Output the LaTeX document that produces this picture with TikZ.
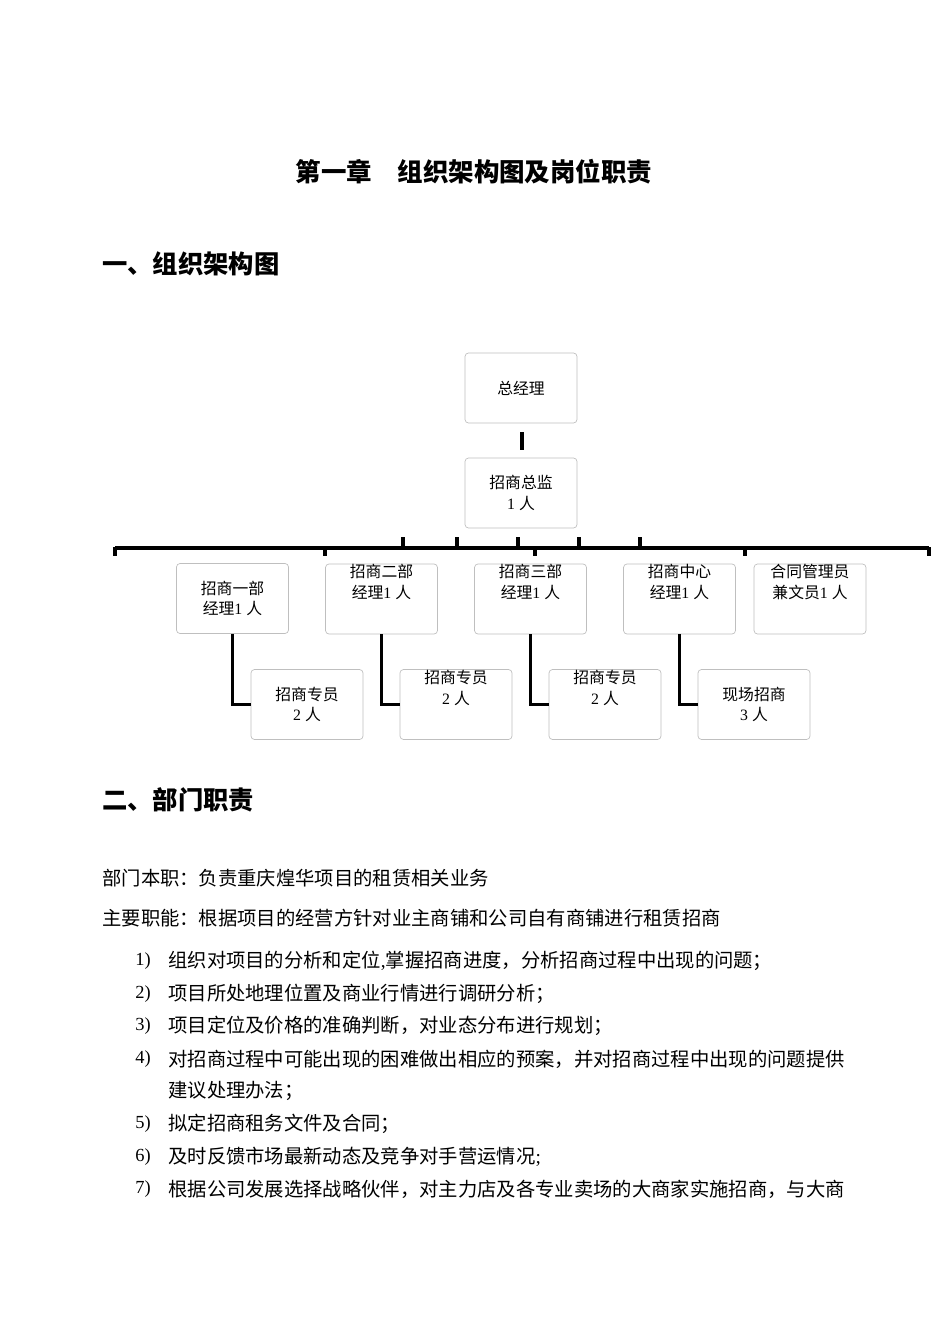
\documentclass[tikz,border=0pt]{standalone}
\usepackage{fontspec}
\setmainfont{Liberation Serif}
\newfontfamily\cjk{Noto Sans CJK SC}
\begin{document}
\begin{tikzpicture}[x=0.02cm,y=-0.02cm,
 box/.style={draw=black!25,rounded corners=2pt,line width=0.4pt,minimum width=112*0.02cm,minimum height=70*0.02cm,inner sep=0pt,align=center,font=\cjk\fontsize{9}{11.8}\selectfont},
 thick line/.style={line width=2.2pt},
 body/.style={anchor=west,inner sep=0pt,font=\cjk\fontsize{11}{13}\selectfont},
 num/.style={anchor=west,inner sep=0pt,font=\fontsize{10.5}{12}\selectfont}]
\useasboundingbox (0,0) rectangle (950,1344);
\node[font=\cjk\bfseries\fontsize{14.5}{17}\selectfont] (title) at (474,172) {第一章\quad 组织架构图及岗位职责};
\node[anchor=west,inner sep=0pt,font=\cjk\bfseries\fontsize{14.4}{17}\selectfont] (h1) at (102,264) {一、组织架构图};
\node[anchor=west,inner sep=0pt,font=\cjk\bfseries\fontsize{14.4}{17}\selectfont] (h2) at (102,800) {二、部门职责};
% chart
\node[box] (gm) at (521,388) {总经理};
\node[box] (zj) at (521,493) {招商总监\\{\rmfamily 1 }人};
\node[box] (b1) at (232.5,598.5) {招商一部\\经理{\rmfamily 1 }人};
\node[box] (b2) at (381.5,599) {招商二部\\经理{\rmfamily 1 }人\\[8pt]};
\node[box] (b3) at (530.5,599) {招商三部\\经理{\rmfamily 1 }人\\[8pt]};
\node[box] (b4) at (679.5,599) {招商中心\\经理{\rmfamily 1 }人\\[8pt]};
\node[box] (b5) at (810,599) {合同管理员\\兼文员{\rmfamily 1 }人\\[8pt]};
\node[box] (s1) at (307,704.5) {招商专员\\{\rmfamily 2 }人};
\node[box] (s2) at (456,704.5) {招商专员\\{\rmfamily 2 }人\\[8pt]};
\node[box] (s3) at (605,704.5) {招商专员\\{\rmfamily 2 }人\\[8pt]};
\node[box] (s4) at (754,704.5) {现场招商\\{\rmfamily 3 }人};
\coordinate (t1) at (522,432); \coordinate (t2) at (522,450);
\draw[thick line] (t1) -- (t2);
\coordinate (L) at (115,548); \coordinate (R) at (929,548);
\draw[thick line] (L) -- (R);
\foreach \x in {115,325,535,745,929} \draw[thick line] (\x,547) -- (\x,556);
\foreach \x in {403,457,518,579,640} \draw[thick line] (\x,537) -- (\x,549);
\draw[thick line] (b1.south) |- (s1.west);
\draw[thick line] (b2.south) |- (s2.west);
\draw[thick line] (b3.south) |- (s3.west);
\draw[thick line] (b4.south) |- (s4.west);
% body
\node[body] (p1) at (102,878) {部门本职：负责重庆煌华项目的租赁相关业务};
\node[body] (p2) at (102,918) {主要职能：根据项目的经营方针对业主商铺和公司自有商铺进行租赁招商};
\node[num] (n1) at (135,961) {1)}; \node[body] (l1) at (168,961) {组织对项目的分析和定位{\rmfamily ,}掌握招商进度，分析招商过程中出现的问题；};
\node[num] (n2) at (135,994) {2)}; \node[body] (l2) at (168,994) {项目所处地理位置及商业行情进行调研分析；};
\node[num] (n3) at (135,1026) {3)}; \node[body] (l3) at (168,1026) {项目定位及价格的准确判断，对业态分布进行规划；};
\node[num] (n4) at (135,1059) {4)}; \node[body] (l4) at (168,1059) {对招商过程中可能出现的困难做出相应的预案，并对招商过程中出现的问题提供};
\node[body] (l4b) at (168,1091) {建议处理办法；};
\node[num] (n5) at (135,1124) {5)}; \node[body] (l5) at (168,1124) {拟定招商租务文件及合同；};
\node[num] (n6) at (135,1157) {6)}; \node[body] (l6) at (168,1157) {及时反馈市场最新动态及竞争对手营运情况{\rmfamily ;}};
\node[num] (n7) at (135,1189) {7)}; \node[body] (l7) at (168,1189) {根据公司发展选择战略伙伴，对主力店及各专业卖场的大商家实施招商，与大商};
\end{tikzpicture}
\end{document}
